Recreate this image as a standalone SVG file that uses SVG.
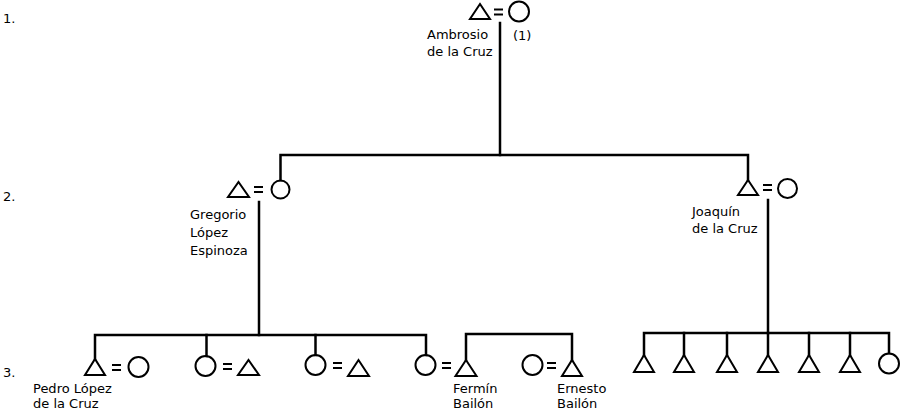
<svg xmlns="http://www.w3.org/2000/svg" width="900" height="414" viewBox="0 0 900 414">
<style>
  .s { fill: none; stroke: #000; stroke-width: 2; }
  .c { fill: none; stroke: #000; stroke-width: 2.5; stroke-linecap: square; }
  .eq { stroke: #000; stroke-width: 2; }
  text { font-family: "DejaVu Sans", "Liberation Sans", sans-serif; font-size: 13px; fill: #000; }
</style>
<rect width="900" height="414" fill="#fff"/>

<g id="generation-labels">
  <text x="3" y="23">1.</text>
  <text x="3" y="201">2.</text>
  <text x="3" y="377">3.</text>
</g>

<g id="connectors">
  <line class="c" x1="500" y1="23" x2="500" y2="155"/>
  <polyline class="c" points="280.5,180 280.5,155 748,155 748,180"/>
  <line class="c" x1="259" y1="202" x2="259" y2="335"/>
  <polyline class="c" points="95,359 95,335 426,335 426,355"/>
  <line class="c" x1="206.5" y1="335" x2="206.5" y2="356"/>
  <line class="c" x1="315.5" y1="335" x2="315.5" y2="355"/>
  <polyline class="c" points="466,360 466,334 572,334 572,360"/>
  <line class="c" x1="768" y1="200" x2="768" y2="333"/>
  <polyline class="c" points="644,355 644,333 889,333 889,353"/>
  <line class="c" x1="684" y1="333" x2="684" y2="355"/>
  <line class="c" x1="727" y1="333" x2="727" y2="355"/>
  <line class="c" x1="768" y1="333" x2="768" y2="355"/>
  <line class="c" x1="809" y1="333" x2="809" y2="355"/>
  <line class="c" x1="850" y1="333" x2="850" y2="355"/>
</g>

<g id="ambrosio">
  <polygon class="s" points="470,19 490,19 480,4"/>
  <line class="eq" x1="494" y1="9.5" x2="503" y2="9.5"/>
  <line class="eq" x1="494" y1="14.5" x2="503" y2="14.5"/>
  <circle class="s" cx="519" cy="11.5" r="10"/>
  <text x="427" y="39">Ambrosio</text>
  <text x="427" y="56">de la Cruz</text>
  <text x="513" y="40">(1)</text>
</g>

<g id="gregorio">
  <polygon class="s" points="228,197 249,197 238.5,182"/>
  <line class="eq" x1="254" y1="187" x2="263" y2="187"/>
  <line class="eq" x1="254" y1="192" x2="263" y2="192"/>
  <circle class="s" cx="280.5" cy="189.5" r="9"/>
  <text x="190" y="219">Gregorio</text>
  <text x="190" y="237">López</text>
  <text x="190" y="255">Espinoza</text>
</g>

<g id="joaquin">
  <polygon class="s" points="738,195 758,195 748,180"/>
  <line class="eq" x1="763" y1="185" x2="772" y2="185"/>
  <line class="eq" x1="763" y1="190" x2="772" y2="190"/>
  <circle class="s" cx="787.5" cy="188.5" r="9.5"/>
  <text x="692" y="216">Joaquín</text>
  <text x="692" y="233">de la Cruz</text>
</g>

<g id="pedro">
  <polygon class="s" points="85,375 105,375 95,359"/>
  <line class="eq" x1="112" y1="365" x2="121" y2="365"/>
  <line class="eq" x1="112" y1="370" x2="121" y2="370"/>
  <circle class="s" cx="138.5" cy="367" r="10"/>
  <text x="33" y="393">Pedro López</text>
  <text x="33" y="408">de  la Cruz</text>
</g>

<g id="couple-3b">
  <circle class="s" cx="205.5" cy="366" r="10"/>
  <line class="eq" x1="223" y1="364" x2="232" y2="364"/>
  <line class="eq" x1="223" y1="369" x2="232" y2="369"/>
  <polygon class="s" points="238,375 259,375 248.5,360"/>
</g>

<g id="couple-3c">
  <circle class="s" cx="315.5" cy="365" r="10"/>
  <line class="eq" x1="333" y1="363" x2="342" y2="363"/>
  <line class="eq" x1="333" y1="368" x2="342" y2="368"/>
  <polygon class="s" points="348,376 369,376 358.5,360"/>
</g>

<g id="fermin">
  <circle class="s" cx="425.5" cy="365" r="10"/>
  <line class="eq" x1="442" y1="363" x2="451" y2="363"/>
  <line class="eq" x1="442" y1="368" x2="451" y2="368"/>
  <polygon class="s" points="455.5,376 476.5,376 466,360"/>
  <text x="453" y="393">Fermín</text>
  <text x="453" y="408">Bailón</text>
</g>

<g id="ernesto">
  <circle class="s" cx="532.5" cy="365" r="10"/>
  <line class="eq" x1="547" y1="363" x2="556" y2="363"/>
  <line class="eq" x1="547" y1="368" x2="556" y2="368"/>
  <polygon class="s" points="562,376 582,376 572,360"/>
  <text x="557" y="393">Ernesto</text>
  <text x="557" y="408">Bailón</text>
</g>

<g id="joaquin-children">
  <polygon class="s" points="634,372 654,372 644,355"/>
  <polygon class="s" points="674,372 694,372 684,355"/>
  <polygon class="s" points="717,372 737,372 727,355"/>
  <polygon class="s" points="758,372 778,372 768,355"/>
  <polygon class="s" points="799,372 819,372 809,355"/>
  <polygon class="s" points="840,372 860,372 850,355"/>
  <circle class="s" cx="889" cy="363.5" r="10"/>
</g>
</svg>
